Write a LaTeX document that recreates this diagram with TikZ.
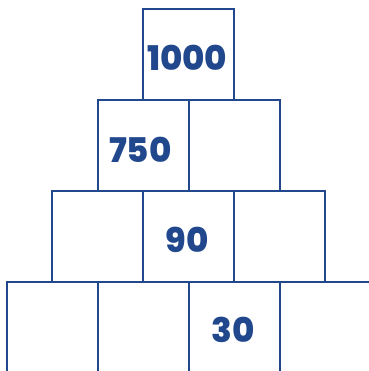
\documentclass[tikz,border=0pt]{standalone}
\usepackage{fontspec}
\setmainfont{Poppins}[BoldFont={Poppins ExtraBold}]
\definecolor{pblue}{RGB}{33,72,140}
\begin{document}
\begin{tikzpicture}[x=1pt,y=-1pt,
  cell/.style={draw=pblue,line width=2.2pt,minimum width=91pt,minimum height=91pt,inner sep=0pt,outer sep=0pt,anchor=north west},
  num/.style={font=\fontsize{34}{34}\selectfont\bfseries,text=pblue,inner sep=0pt}]
\useasboundingbox (0,0) rectangle (368,371);
\node[cell] (r1c1) at (143.3,9.3) {};
\node[cell] (r2c1) at (97.8,100) {};
\node[cell] (r2c2) at (188.8,100) {};
\node[cell] (r3c1) at (52.3,191) {};
\node[cell] (r3c2) at (143.3,191) {};
\node[cell] (r3c3) at (234.3,191) {};
\node[cell] (r4c1) at (6.8,282) {};
\node[cell] (r4c2) at (97.8,282) {};
\node[cell] (r4c3) at (188.8,282) {};
\node[cell] (r4c4) at (279.8,282) {};
\node[num] (t1) at ([xshift=-1.7pt,yshift=-3.5pt]r1c1.center) {1000};
\node[num] (t2) at ([xshift=-3pt,yshift=-4pt]r2c1.center) {750};
\node[num] (t3) at ([xshift=-1.5pt,yshift=-3pt]r3c2.center) {90};
\node[num] (t4) at ([xshift=-1.2pt,yshift=-2.5pt]r4c3.center) {30};
\end{tikzpicture}
\end{document}
